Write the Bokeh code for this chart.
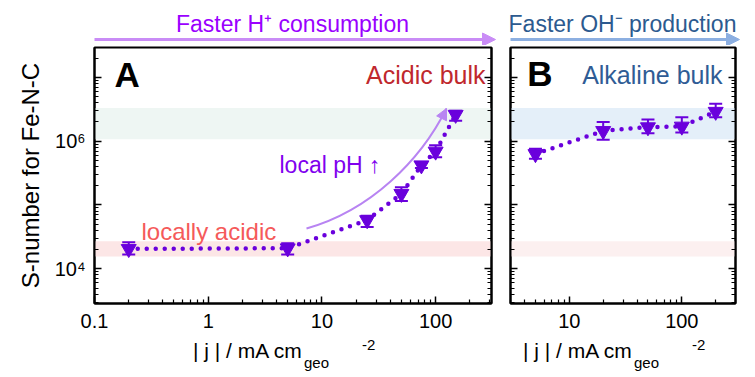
import math
from bokeh.plotting import figure
from bokeh.models import (Range1d, LogAxis, FixedTicker, Label, Arrow, NormalHead,
                          TeeHead, Whisker, ColumnDataSource, BoxAnnotation)
from bokeh.layouts import column, row
from bokeh.embed import file_html
from bokeh.resources import INLINE

# ---------------- data ----------------
a_j = [0.2, 5, 25, 50, 75, 100, 150]
a_s = [2.05e4, 2.1e4, 5.8e4, 1.5e5, 4.2e5, 6.9e5, 2.6e6]
a_lo = [1.67e4, 1.67e4, 4.5e4, 1.15e5, 3.8e5, 5.6e5, 2.1e6]
a_hi = [2.61e4, 2.52e4, 6.8e4, 1.9e5, 4.6e5, 8.6e5, 3.0e6]

b_j = [5, 20, 50, 100, 200]
b_s = [6.3e5, 1.45e6, 1.66e6, 1.7e6, 2.9e6]
b_lo = [5.3e5, 1.05e6, 1.33e6, 1.37e6, 2.38e6]
b_hi = [7.6e5, 2.0e6, 2.19e6, 2.38e6, 3.86e6]

band_acid = [1.56e4, 2.7e4]
band_alk = [1.07e6, 3.3e6]

x_ticks_a = [0.1, 1, 10, 100]
x_ticks_b = [10, 100]
y_ticks = [1e3, 1e4, 1e5, 1e6, 1e7]
y_tick_labels = {1e4: "10\u2074", 1e6: "10\u2076"}
x_tick_labels = {0.1: "0.1", 1: "1", 10: "10", 100: "100"}

xr_a = [0.1, 310]
xr_b = [3, 300]
yr = [2858, 2.94e7]

# ---------------- style ----------------
FONT = "Liberation Sans"
PURPLE = "#6a00dc"
minor = [k * 10.0 ** n for n in range(-2, 9) for k in range(2, 10)]

# page-pixel geometry (used only to place annotations)
W, H = 755, 377
TOP_H = 45
BOT_Y = 335            # page y where the bottom strip starts
FR_TOP, FR_BOT = 47, 303
A_L, A_R = 94, 491
B_L, B_R = 510, 735
A_W = 500
FIX = 0.36             # baseline correction, fraction of font size


def ypx(py):
    l0, l1 = math.log10(yr[0]), math.log10(yr[1])
    return 10 ** (l0 + (FR_BOT - py) / (FR_BOT - FR_TOP) * (l1 - l0))


def xa(px):
    l0, l1 = math.log10(xr_a[0]), math.log10(xr_a[1])
    return 10 ** (l0 + (px - A_L) / (A_R - A_L) * (l1 - l0))


def xb(px):
    l0, l1 = math.log10(xr_b[0]), math.log10(xr_b[1])
    return 10 ** (l0 + (px - B_L) / (B_R - B_L) * (l1 - l0))


def style_axis(ax, ticks, labels):
    ax.ticker = FixedTicker(ticks=ticks, minor_ticks=minor)
    ax.major_label_overrides = {t: labels.get(t, "") for t in ticks}
    ax.axis_line_color = "black"
    ax.axis_line_width = 2
    ax.major_tick_in = 7
    ax.major_tick_out = 0
    ax.minor_tick_in = 4
    ax.minor_tick_out = 0
    ax.major_tick_line_width = 1.5
    ax.minor_tick_line_width = 1.2
    ax.major_tick_line_color = "black"
    ax.minor_tick_line_color = "black"
    ax.major_label_text_font = FONT
    ax.major_label_text_font_size = "20px"
    ax.major_label_text_color = "black"


def make_panel(xr, width, bl, br, xticks, show_y):
    p = figure(width=width, height=BOT_Y - TOP_H, x_axis_type="log", y_axis_type="log",
               x_range=Range1d(*xr), y_range=Range1d(*yr),
               output_backend="svg", toolbar_location=None,
               min_border_left=bl, min_border_right=br,
               min_border_top=FR_TOP - TOP_H, min_border_bottom=BOT_Y - FR_BOT)
    p.grid.visible = False
    p.outline_line_color = "black"
    p.outline_line_width = 2
    p.background_fill_color = "white"
    p.border_fill_color = "white"
    xax = p.xaxis[0]
    style_axis(xax, xticks, x_tick_labels)
    xax.major_label_standoff = 10
    yax = p.yaxis[0]
    style_axis(yax, y_ticks, y_tick_labels if show_y else {})
    if show_y:
        yax.major_label_standoff = 9
        yax.axis_label = "S-number for Fe-N-C"
        yax.axis_label_text_font = FONT
        yax.axis_label_text_font_size = "24px"
        yax.axis_label_text_font_style = "normal"
        yax.axis_label_text_color = "black"
        yax.axis_label_standoff = 8
    else:
        yax.major_label_standoff = 0
        yax.major_label_text_font_size = "0px"
    rax = LogAxis()
    style_axis(rax, y_ticks, {})
    rax.major_label_standoff = 0
    rax.major_label_text_font_size = "0px"
    p.add_layout(rax, "right")
    return p


def text(p, x, y, s, size, color, align="left", bold=False):
    p.add_layout(Label(x=x, y=y, text=s, text_font=FONT, text_font_size=f"{size}px",
                       text_color=color, text_align=align, text_baseline="alphabetic",
                       text_font_style="bold" if bold else "normal"))


def add_series(p, xs, ys, lo, hi):
    p.line(xs, ys, line_color=PURPLE, line_width=4.5, line_dash="0 9", line_cap="round")
    src = ColumnDataSource(dict(x=xs, lo=lo, hi=hi))
    p.add_layout(Whisker(source=src, base="x", lower="lo", upper="hi",
                         line_color=PURPLE, line_width=2, level="overlay",
                         upper_head=TeeHead(size=13, line_color=PURPLE, line_width=2),
                         lower_head=TeeHead(size=13, line_color=PURPLE, line_width=2)))
    p.scatter(xs, ys, marker="inverted_triangle", size=15, fill_color=PURPLE,
              line_color=PURPLE)


def strip(height):
    s = figure(width=W, height=height, x_range=Range1d(0, W), y_range=Range1d(0, height),
               output_backend="svg", toolbar_location=None, x_axis_location=None,
               y_axis_location=None, min_border=0)
    s.grid.visible = False
    s.outline_line_color = None
    s.border_fill_color = "white"
    return s


# ---------------- top strip with arrows ----------------
top = strip(TOP_H)
top.add_layout(Arrow(x_start=A_L, y_start=TOP_H - 39, x_end=495, y_end=TOP_H - 39,
                     line_color="#c98cf6", line_width=3,
                     end=NormalHead(size=13, fill_color="#c98cf6", line_color="#c98cf6")))
top.add_layout(Arrow(x_start=B_L, y_start=TOP_H - 39, x_end=739, y_end=TOP_H - 39,
                     line_color="#8cafe1", line_width=3,
                     end=NormalHead(size=13, fill_color="#8cafe1", line_color="#8cafe1")))
text(top, 292, TOP_H - 32 + FIX * 23, "Faster H\u207a consumption", 23, "#9a00ff", "center")
text(top, 622, TOP_H - 32 + FIX * 23, "Faster OH\u207b production", 23, "#2c5a8f", "center")

# ---------------- bottom strip with axis titles ----------------
BH = H - BOT_Y
bot = strip(BH)
for c in [(A_L + A_R) / 2, (B_L + B_R) / 2]:
    text(bot, c + 10, H - 358 + FIX * 21, "| j | / mA cm", 21, "black", "right")
    text(bot, c + 11, H - 367 + FIX * 15, "geo", 15, "black")
    text(bot, c + 69, H - 350 + FIX * 15, "-2", 15, "black")

# ---------------- panel A ----------------
pa = make_panel(xr_a, A_W, A_L, A_W - A_R, x_ticks_a, True)
pa.add_layout(BoxAnnotation(bottom=band_alk[0], top=band_alk[1], fill_color="#eef6f3",
                            fill_alpha=1, line_color=None, level="underlay"))
pa.add_layout(BoxAnnotation(bottom=band_acid[0], top=band_acid[1], fill_color="#fce6e6",
                            fill_alpha=1, line_color=None, level="underlay"))
add_series(pa, a_j, a_s, a_lo, a_hi)
pa.bezier(x0=[xa(306)], y0=[ypx(228)], x1=[xa(446)], y1=[ypx(108)],
          cx0=[xa(370)], cy0=[ypx(210)], cx1=[xa(420)], cy1=[ypx(160)],
          line_color="#b884f2", line_width=2)
pa.add_layout(Arrow(x_start=xa(441.5), y_start=ypx(117), x_end=xa(446), y_end=ypx(108),
                    line_color="#b884f2", line_width=2,
                    end=NormalHead(size=11, fill_color="#b884f2", line_color="#b884f2")))
text(pa, xa(114), ypx(86.7 - 13), "A", 35, "black", bold=True)
text(pa, xa(485), ypx(83 - FIX * 25), "Acidic bulk", 25, "#c0282d", "right")
text(pa, xa(141), ypx(240 - FIX * 24), "locally acidic", 24, "#f55a5a")
text(pa, xa(279), ypx(173 - FIX * 23), "local pH \u2191", 23, "#8000ee")

# ---------------- panel B ----------------
pb = make_panel(xr_b, W - A_W, B_L - A_W, W - B_R, x_ticks_b, False)
pb.add_layout(BoxAnnotation(bottom=band_alk[0], top=band_alk[1], fill_color="#e4eff9",
                            fill_alpha=1, line_color=None, level="underlay"))
pb.add_layout(BoxAnnotation(bottom=band_acid[0], top=band_acid[1], fill_color="#fcf0f0",
                            fill_alpha=1, line_color=None, level="underlay"))
add_series(pb, b_j, b_s, b_lo, b_hi)
text(pb, xb(526.7), ypx(86 - 13), "B", 35, "black", bold=True)
text(pb, xb(722), ypx(83 - FIX * 25), "Alkaline bulk", 25, "#2f5c95", "right")

layout = column(top, row(pa, pb), bot)
open("out.html", "w").write(file_html(layout, INLINE))
